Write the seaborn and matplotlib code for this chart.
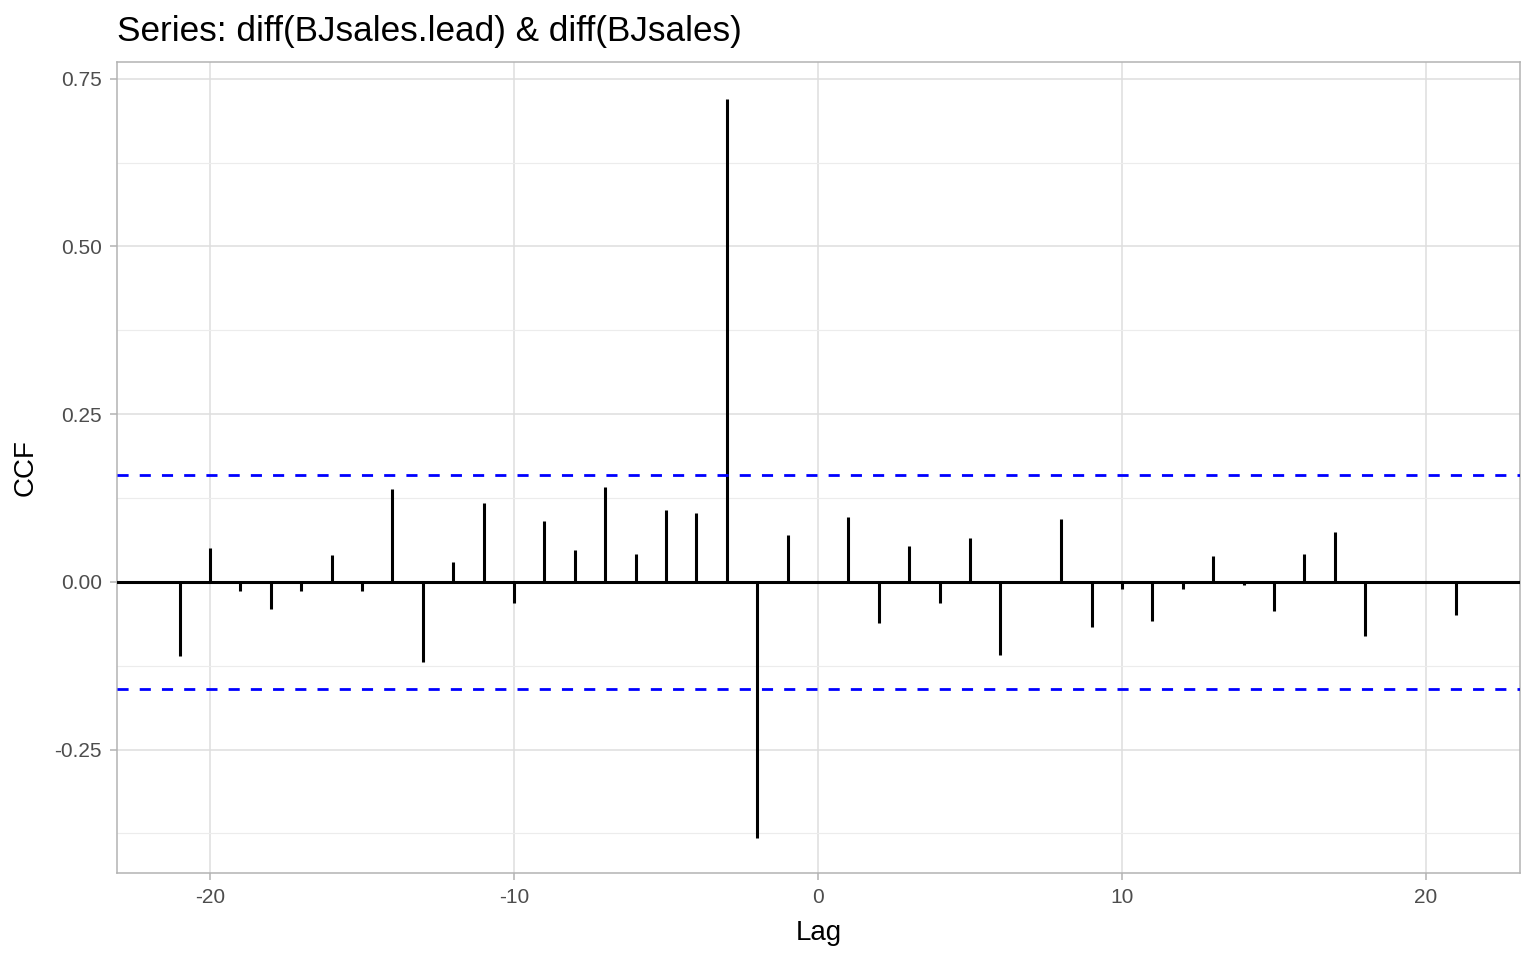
import numpy as np
import pandas as pd
import matplotlib
matplotlib.use("Agg")
import matplotlib.pyplot as plt
import seaborn as sns
from matplotlib.ticker import MultipleLocator

# CCF values
lags = list(range(-21, 22))
ccf_values = [
    -0.110, 0.051, -0.013, -0.040, -0.014, 0.040, -0.014, 0.138, -0.119, 0.029,
    0.117, -0.031, 0.090, 0.047, 0.141, 0.042, 0.107, 0.103, 0.720, -0.382,
    0.070, -0.002, 0.096, -0.061, 0.053, -0.031, 0.066, -0.109, 0.001, 0.094,
    -0.068, -0.011, -0.059, -0.011, 0.039, -0.004, -0.044, 0.042, 0.075, -0.080,
    0.002, -0.001, -0.049,
]
conf_limit = 0.16
x_ticks = [-20, -10, 0, 10, 20]
y_ticks = [-0.25, 0.0, 0.25, 0.50, 0.75]

df = pd.DataFrame({"lag": lags, "ccf": ccf_values})

sns.set_theme(style="whitegrid")
plt.rcParams['font.family'] = ['Liberation Sans', 'DejaVu Sans']
plt.rcParams['axes.unicode_minus'] = False

fig = plt.figure(figsize=(15.36, 9.6), dpi=100)
ax = fig.add_axes([117 / 1536, 1 - 873 / 960, (1520 - 117) / 1536, (873 - 62) / 960])

# stems
ax.vlines(df["lag"], 0, df["ccf"], color="black", linewidth=2.2, zorder=3)
ax.axhline(0, color="black", linewidth=2.2, zorder=3)
for c in (conf_limit, -conf_limit):
    ax.axhline(c, color="#0000ff", linewidth=2, linestyle=(0, (4, 4)), zorder=3)

ax.set_xlim(-23.06, 23.09)
ax.set_ylim(-0.434, 0.775)
ax.set_xticks(x_ticks)
ax.set_xticklabels([str(v) for v in x_ticks])
ax.set_yticks(y_ticks)
ax.set_yticklabels([f"{v:.2f}" for v in y_ticks])
ax.yaxis.set_minor_locator(MultipleLocator(0.125))

ax.set_facecolor("white")
ax.grid(which="major", color="#dedede", linewidth=1.1)
ax.grid(which="minor", axis="y", color="#ececec", linewidth=0.8)
ax.grid(which="minor", axis="x", visible=False)
for s in ax.spines.values():
    s.set_color("#b3b3b3")
    s.set_linewidth(1.1)

ax.tick_params(axis="both", which="major", labelsize=15, labelcolor="#4d4d4d",
               color="#b3b3b3", length=5, width=1.1, direction="out",
               bottom=True, left=True, pad=6)
ax.tick_params(which="minor", length=0)

ax.set_xlabel("Lag", fontsize=20, color="black", labelpad=9)
ax.set_ylabel("CCF", fontsize=20, color="black", labelpad=11)
fig.text(117 / 1536, 1 - 31 / 960, "Series: diff(BJsales.lead) & diff(BJsales)",
         fontsize=25.3, ha="left", va="center", color="black")

fig.savefig("out.png", dpi=100)
